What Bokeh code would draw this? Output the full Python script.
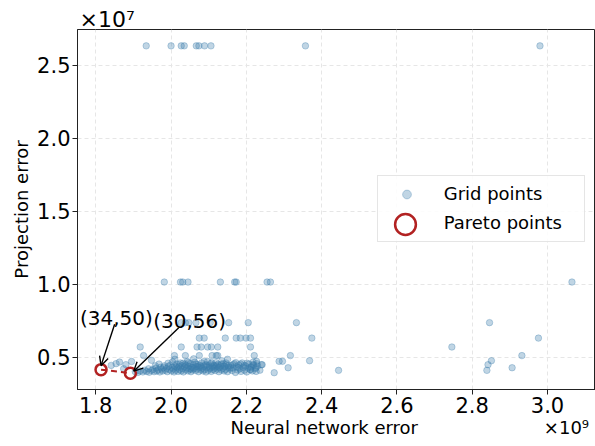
from bokeh.plotting import figure
from bokeh.models import (Range1d, FixedTicker, NumeralTickFormatter, Label, Title,
                          Arrow, OpenHead, Legend, LegendItem)
from bokeh.embed import file_html
from bokeh.resources import INLINE

# Neural network error in units of 1e9, projection error in units of 1e7.
nn_error = [
    # projection error ~2.63
    1.934, 2.000, 2.027, 2.035, 2.067, 2.074, 2.089, 2.106, 2.357, 2.980,
    # ~1.01
    1.982, 2.025, 2.031, 2.045, 2.131, 2.169, 2.173, 2.255, 2.264, 3.065,
    # ~0.74
    2.027, 2.038, 2.047, 2.066, 2.104, 2.153, 2.205, 2.333, 2.846,
    # ~0.63
    2.075, 2.088, 2.144, 2.173, 2.184, 2.199, 2.211, 2.374, 2.976,
    # ~0.57
    1.918, 2.027, 2.069, 2.080, 2.097, 2.107, 2.124, 2.211, 2.746,
    # ~0.51
    1.927, 2.009, 2.038, 2.075, 2.109, 2.120, 2.124, 2.221, 2.317, 2.932,
    # low band
    1.841, 1.854, 1.863, 1.874, 1.880, 1.895,
    1.905, 1.912, 1.918, 1.925, 1.930, 1.935, 1.940, 1.942, 1.948, 1.952,
    1.955, 1.960, 1.962, 1.966, 1.970, 1.972, 1.975, 1.978, 1.982, 1.985,
    1.988, 1.990, 1.993, 1.996, 1.998, 2.001, 2.003, 2.006, 2.008, 2.010,
    2.012, 2.015, 2.017, 2.019, 2.021, 2.023, 2.025, 2.027, 2.029, 2.031,
    2.033, 2.035, 2.037, 2.039, 2.041, 2.043, 2.045, 2.047, 2.049, 2.051,
    2.053, 2.055, 2.057, 2.059, 2.061, 2.063, 2.065, 2.067, 2.069, 2.071,
    2.073, 2.075, 2.077, 2.079, 2.081, 2.083, 2.085, 2.087, 2.089, 2.091,
    2.093, 2.095, 2.097, 2.099, 2.101, 2.103, 2.105, 2.107, 2.109, 2.111,
    2.113, 2.115, 2.117, 2.119, 2.121, 2.123, 2.125, 2.127, 2.129, 2.131,
    2.133, 2.135, 2.137, 2.139, 2.141, 2.143, 2.145, 2.147, 2.150, 2.153,
    2.156, 2.159, 2.162, 2.165, 2.168, 2.171, 2.174, 2.177, 2.180, 2.183,
    2.186, 2.189, 2.192, 2.195, 2.198, 2.201, 2.204, 2.207, 2.210, 2.213,
    2.216, 2.220, 2.224, 2.230, 2.236, 2.242,
    1.958, 1.968, 1.980, 1.992, 2.004, 2.014, 2.022, 2.032, 2.040, 2.046,
    2.052, 2.058, 2.066, 2.072, 2.080, 2.088, 2.094, 2.102, 2.108, 2.114,
    2.120, 2.126, 2.134, 2.140, 2.146, 2.152, 2.158, 2.164, 2.172, 2.178,
    2.185, 2.194, 2.202, 2.212, 2.218, 2.228, 1.948, 2.010, 2.060, 2.150,
    # scattered to the right of the band
    2.218, 2.227, 2.240, 2.225, 2.211, 2.226, 2.274, 2.287, 2.296, 2.311,
    2.368, 2.445, 2.839, 2.842, 2.851, 2.906,
]
proj_error = [
    2.632, 2.632, 2.632, 2.632, 2.632, 2.632, 2.632, 2.632, 2.632, 2.632,
    1.014, 1.014, 1.014, 1.014, 1.014, 1.014, 1.014, 1.014, 1.014, 1.014,
    0.736, 0.736, 0.736, 0.736, 0.736, 0.736, 0.736, 0.736, 0.736,
    0.630, 0.630, 0.630, 0.630, 0.630, 0.630, 0.630, 0.630, 0.630,
    0.569, 0.569, 0.569, 0.569, 0.569, 0.569, 0.569, 0.569, 0.569,
    0.510, 0.510, 0.510, 0.510, 0.510, 0.510, 0.510, 0.510, 0.510, 0.510,
    0.443, 0.455, 0.466, 0.420, 0.448, 0.470,
    0.400, 0.395, 0.405, 0.398, 0.410, 0.402, 0.420, 0.396, 0.408, 0.415,
    0.400, 0.425, 0.405, 0.412, 0.398, 0.430, 0.418, 0.405, 0.440, 0.410,
    0.422, 0.400, 0.435, 0.415, 0.445, 0.405, 0.428, 0.418, 0.398, 0.440,
    0.410, 0.452, 0.425, 0.402, 0.435, 0.415, 0.460, 0.405, 0.440, 0.420,
    0.398, 0.432, 0.450, 0.412, 0.425, 0.470, 0.405, 0.438, 0.418, 0.455,
    0.400, 0.430, 0.412, 0.445, 0.422, 0.465, 0.408, 0.435, 0.418, 0.450,
    0.400, 0.428, 0.442, 0.412, 0.460, 0.422, 0.405, 0.438, 0.415, 0.448,
    0.398, 0.430, 0.470, 0.410, 0.440, 0.420, 0.455, 0.402, 0.432, 0.415,
    0.445, 0.425, 0.408, 0.462, 0.435, 0.418, 0.450, 0.400, 0.428, 0.440,
    0.412, 0.475, 0.422, 0.455, 0.405, 0.435, 0.415, 0.448, 0.400, 0.430,
    0.418, 0.442, 0.408, 0.425, 0.455, 0.395, 0.435, 0.412, 0.445, 0.420,
    0.402, 0.460, 0.430, 0.410, 0.440, 0.398, 0.425, 0.452, 0.415, 0.435,
    0.405, 0.445, 0.420, 0.438, 0.410, 0.448,
    0.440, 0.452, 0.428, 0.458, 0.468, 0.432, 0.448, 0.458, 0.442, 0.462,
    0.418, 0.428, 0.452, 0.438, 0.432, 0.470, 0.445, 0.428, 0.462, 0.438,
    0.445, 0.430, 0.452, 0.438, 0.460, 0.442, 0.428, 0.448, 0.462, 0.428,
    0.452, 0.442, 0.458, 0.430, 0.465, 0.455, 0.478, 0.485, 0.488, 0.485,
    0.448, 0.471, 0.448, 0.427, 0.414, 0.402, 0.393, 0.471, 0.471, 0.427,
    0.475, 0.409, 0.409, 0.448, 0.475, 0.427,
]

# Pareto-optimal configurations
pareto_nn = [1.814, 1.892]
pareto_proj = [0.414, 0.390]
pareto_labels = ["(34,50)", "(30,56)"]

x_ticks = [1.8, 2.0, 2.2, 2.4, 2.6, 2.8, 3.0]
y_ticks = [0.5, 1.0, 1.5, 2.0, 2.5]

FONT = "DejaVu Sans"
BLUE = "#3a7dab"
RED = "#b22222"
NBSP = "\u00a0"

FRAME_W, FRAME_H = 518, 360
LEFT, TOP, BOTTOM = 77, 29, 57

# 5% padding around the data, like the usual autoscale
all_x = nn_error + pareto_nn
all_y = proj_error + pareto_proj
xpad = 0.05 * (max(all_x) - min(all_x))
ypad = 0.05 * (max(all_y) - min(all_y))
x0, x1 = min(all_x) - xpad, max(all_x) + xpad
y0, y1 = min(all_y) - ypad, max(all_y) + ypad

# y multiplier sits above the plot, left-aligned with the axis
y_mult = Title(text="×10⁷", align="left", offset=2, standoff=-5,
               text_font=FONT, text_font_size="22px", text_font_style="normal",
               text_color="black")

p = figure(frame_width=FRAME_W, frame_height=FRAME_H,
           x_range=Range1d(x0, x1), y_range=Range1d(y0, y1),
           title=y_mult,
           output_backend="svg", toolbar_location=None,
           min_border_left=LEFT, min_border_right=0,
           min_border_top=TOP, min_border_bottom=BOTTOM,
           background_fill_color="white", border_fill_color="white")

p.outline_line_color = "#222222"
p.outline_line_width = 1

for ax, ticks in ((p.xaxis, x_ticks), (p.yaxis, y_ticks)):
    ax.ticker = FixedTicker(ticks=ticks)
    ax.formatter = NumeralTickFormatter(format="0.0")
    ax.major_label_text_font = FONT
    ax.major_label_text_font_size = "21px"
    ax.major_label_text_color = "black"
    ax.axis_label_text_font = FONT
    ax.axis_label_text_font_size = "18px"
    ax.axis_label_text_font_style = "normal"
    ax.axis_label_text_color = "black"
    ax.axis_line_color = "#222222"
    ax.major_tick_line_color = "#222222"
    ax.major_tick_out = 5
    ax.major_tick_in = 0
    ax.minor_tick_line_color = None
    ax.major_label_standoff = 2
    ax.axis_label_standoff = 2

p.yaxis.axis_label = "Projection error"

# x label and its multiplier share one row under the tick labels
x_label_row = Title(text="Neural network error" + NBSP * 22 + "×10⁹",
                    align="left", offset=153, standoff=2, vertical_align="top",
                    text_font=FONT, text_font_size="18px", text_font_style="normal",
                    text_color="black")
p.add_layout(x_label_row, "below")

for g in (p.xgrid, p.ygrid):
    g.grid_line_color = "#e6e6e6"
    g.grid_line_dash = "4 3"
    g.grid_line_width = 1

grid_r = p.scatter(nn_error, proj_error, marker="circle", size=6.5,
                   fill_color=BLUE, line_color=BLUE,
                   fill_alpha=0.32, line_alpha=0.32)

p.line(pareto_nn, pareto_proj, line_color=RED, line_width=2, line_dash="6 4")
pareto_r = p.scatter(pareto_nn, pareto_proj, marker="circle", size=11,
                     fill_color=None, line_color=RED, line_width=2.5)

# pixel -> data conversion for annotation offsets
sx = FRAME_W / (x1 - x0)
sy = FRAME_H / (y1 - y0)

label_offsets = [(15.3, 52), (59.2, 52)]
arrow_offsets = [((13.6, 45.3), (0.0, 4.0)), ((48.3, 45.4), (3.3, 2.0))]
for px, py, txt, (dx, dy), (start, end) in zip(pareto_nn, pareto_proj, pareto_labels,
                                                label_offsets, arrow_offsets):
    p.add_layout(Label(x=px, y=py, x_offset=dx, y_offset=dy, text=txt,
                       text_font=FONT, text_font_size="20px", text_color="black",
                       text_align="center", text_baseline="alphabetic"))
    p.add_layout(Arrow(end=OpenHead(size=9, line_width=1.4, line_color="black"),
                       x_start=px + start[0] / sx, y_start=py + start[1] / sy,
                       x_end=px + end[0] / sx, y_end=py + end[1] / sy,
                       line_width=1.4, line_color="black"))

# legend: framed box with both labels, plus a larger circle drawn on top
legend_dummy = p.scatter([], [], marker="circle", size=1, fill_alpha=0, line_alpha=0)
legend_main = Legend(items=[LegendItem(label="Grid points", renderers=[grid_r]),
                            LegendItem(label="Pareto points", renderers=[legend_dummy])],
                     location=(299.7, 147.3), margin=0, padding=7, spacing=7,
                     glyph_width=43, glyph_height=22, label_standoff=16,
                     label_height=22, label_width=133,
                     label_text_font=FONT, label_text_font_size="18px",
                     label_text_color="black",
                     border_line_color="#cccccc", border_line_width=1,
                     background_fill_color="white", background_fill_alpha=0.85)
legend_circle = Legend(items=[LegendItem(label=" ", renderers=[pareto_r])],
                       location=(302.3, 139), margin=0, padding=0, spacing=0,
                       glyph_width=52, glyph_height=52, label_standoff=0,
                       label_text_font_size="1px",
                       border_line_color=None, background_fill_alpha=0)
p.add_layout(legend_main)
p.add_layout(legend_circle)

open("out.html", "w").write(file_html(p, INLINE))
